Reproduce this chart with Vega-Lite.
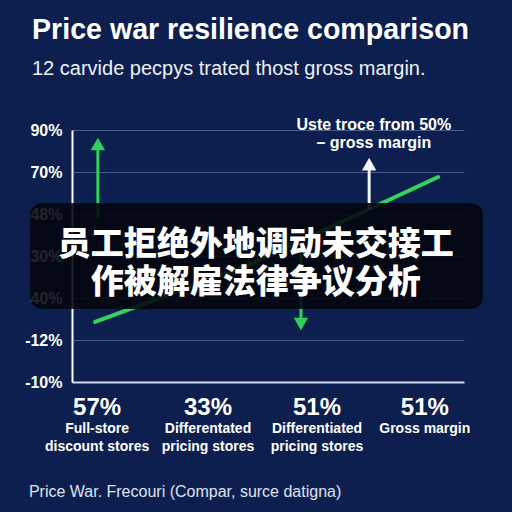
{
  "$schema": "https://vega.github.io/schema/vega-lite/v6.json",
  "width": 392,
  "height": 252,
  "autosize": {"type": "none"},
  "padding": {"left": 72, "top": 130, "right": 48, "bottom": 130},
  "background": "#0d1f4f",
  "config": {"view": {"stroke": null}, "font": "Liberation Sans"},
  "title": {
    "text": "Price war resilience comparison",
    "subtitle": "12 carvide pecpys trated thost gross margin.",
    "anchor": "start",
    "frame": "group",
    "dx": -40,
    "offset": 38,
    "font": "Liberation Sans",
    "fontSize": 28.6,
    "fontWeight": "bold",
    "color": "#ffffff",
    "subtitleFont": "Liberation Sans",
    "subtitleFontSize": 20,
    "subtitleColor": "#eef1f7",
    "subtitlePadding": 14
  },
  "datasets": {
    "trend": [
      {"x": 5.9, "y": 1.43},
      {"x": 26, "y": 2.12},
      {"x": 46.9, "y": 2.86},
      {"x": 93.4, "y": 4.88}
    ],
    "upArrows": [
      {"kind": "gain", "x": 6.6, "from": 3.9, "to": 5.81},
      {"kind": "note", "x": 75.8, "from": 4.1, "to": 5.33}
    ],
    "downArrows": [
      {"kind": "loss", "x": 58.4, "from": 3.2, "to": 1.24}
    ],
    "categories": [
      {"pos": 6.4, "pct": "57%", "desc": "Full-store\ndiscount stores"},
      {"pos": 34.7, "pct": "33%", "desc": "Differentated\npricing stores"},
      {"pos": 62.5, "pct": "51%", "desc": "Differentiated\npricing stores"},
      {"pos": 90, "pct": "51%", "desc": "Gross margin"}
    ]
  },
  "layer": [
    {
      "data": {"name": "trend"},
      "mark": {"type": "line", "color": "#34d45a", "strokeWidth": 4, "strokeCap": "round"},
      "encoding": {
        "x": {
          "field": "x",
          "type": "quantitative",
          "scale": {"domain": [0, 100], "nice": false, "zero": false},
          "axis": {"labels": false, "ticks": false, "grid": false, "title": null, "domainColor": "#d3d9e8", "domainWidth": 2}
        },
        "y": {
          "field": "y",
          "type": "quantitative",
          "scale": {"domain": [0, 6], "nice": false, "zero": false},
          "axis": {
            "title": null,
            "values": [0, 1, 2, 3, 4, 5, 6],
            "labelExpr": "['-10%','-12%','40%','30%','48%','70%','90%'][datum.value]",
            "labelFont": "Liberation Sans",
            "labelFontSize": 16,
            "labelFontWeight": "bold",
            "labelColor": "#ffffff",
            "labelPadding": 10,
            "ticks": false,
            "domainColor": "#ffffff",
            "domainWidth": 2,
            "grid": true,
            "gridColor": "#4a5d8e",
            "gridWidth": 1
          }
        }
      }
    },
    {
      "data": {"name": "upArrows"},
      "mark": {"type": "rule", "strokeWidth": 3, "y2Offset": 6},
      "encoding": {
        "x": {"field": "x", "type": "quantitative"},
        "y": {"field": "from", "type": "quantitative"},
        "y2": {"field": "to"},
        "color": {"field": "kind", "type": "nominal", "scale": {"domain": ["gain", "loss", "note"], "range": ["#2fd158", "#2fd158", "#f2f4f8"]}, "legend": null}
      }
    },
    {
      "data": {"name": "upArrows"},
      "mark": {"type": "point", "shape": "triangle-up", "filled": true, "opacity": 1, "size": 210, "yOffset": 6},
      "encoding": {
        "x": {"field": "x", "type": "quantitative"},
        "y": {"field": "to", "type": "quantitative"},
        "color": {"field": "kind", "type": "nominal", "legend": null}
      }
    },
    {
      "data": {"name": "downArrows"},
      "mark": {"type": "rule", "strokeWidth": 3, "y2Offset": -6},
      "encoding": {
        "x": {"field": "x", "type": "quantitative"},
        "y": {"field": "from", "type": "quantitative"},
        "y2": {"field": "to"},
        "color": {"field": "kind", "type": "nominal", "legend": null}
      }
    },
    {
      "data": {"name": "downArrows"},
      "mark": {"type": "point", "shape": "triangle-down", "filled": true, "opacity": 1, "size": 210, "yOffset": -6},
      "encoding": {
        "x": {"field": "x", "type": "quantitative"},
        "y": {"field": "to", "type": "quantitative"},
        "color": {"field": "kind", "type": "nominal", "legend": null}
      }
    },
    {
      "data": {"values": [{"note": "Uste troce from 50%\n– gross margin"}]},
      "mark": {"type": "text", "lineBreak": "\n", "lineHeight": 18, "fontSize": 16, "fontWeight": "bold", "color": "#ffffff", "align": "center", "baseline": "middle"},
      "encoding": {
        "x": {"datum": 77},
        "y": {"datum": 6.12},
        "text": {"field": "note"}
      }
    },
    {
      "data": {"values": [{}]},
      "mark": {"type": "rect", "fill": "#03060d", "opacity": 0.88, "cornerRadius": 12},
      "encoding": {
        "x": {"datum": -10.7},
        "x2": {"datum": 104.8},
        "y": {"datum": 4.26},
        "y2": {"datum": 1.74}
      }
    },
    {
      "data": {"values": [{"headline": "员工拒绝外地调动未交接工\n作被解雇法律争议分析"}]},
      "mark": {"type": "text", "lineBreak": "\n", "lineHeight": 38, "font": "Noto Sans CJK SC", "fontSize": 33, "fontWeight": 900, "color": "#ffffff", "align": "center", "baseline": "middle"},
      "encoding": {
        "x": {"datum": 46.9},
        "y": {"datum": 3.26},
        "text": {"field": "headline"}
      }
    },
    {
      "data": {"name": "categories"},
      "mark": {"type": "text", "fontSize": 24, "fontWeight": "bold", "color": "#ffffff", "align": "center", "baseline": "middle"},
      "encoding": {
        "x": {"field": "pos", "type": "quantitative"},
        "y": {"datum": -0.62},
        "text": {"field": "pct"}
      }
    },
    {
      "data": {"name": "categories"},
      "mark": {"type": "text", "lineBreak": "\n", "lineHeight": 18, "fontSize": 14, "fontWeight": "bold", "color": "#ffffff", "align": "center", "baseline": "top"},
      "encoding": {
        "x": {"field": "pos", "type": "quantitative"},
        "y": {"datum": -0.95},
        "text": {"field": "desc"}
      }
    },
    {
      "data": {"values": [{"source": "Price War. Frecouri (Compar, surce datigna)"}]},
      "mark": {"type": "text", "fontSize": 16, "color": "#dfe3ee", "align": "left", "baseline": "middle"},
      "encoding": {
        "x": {"datum": -11},
        "y": {"datum": -2.62},
        "text": {"field": "source"}
      }
    }
  ]
}
